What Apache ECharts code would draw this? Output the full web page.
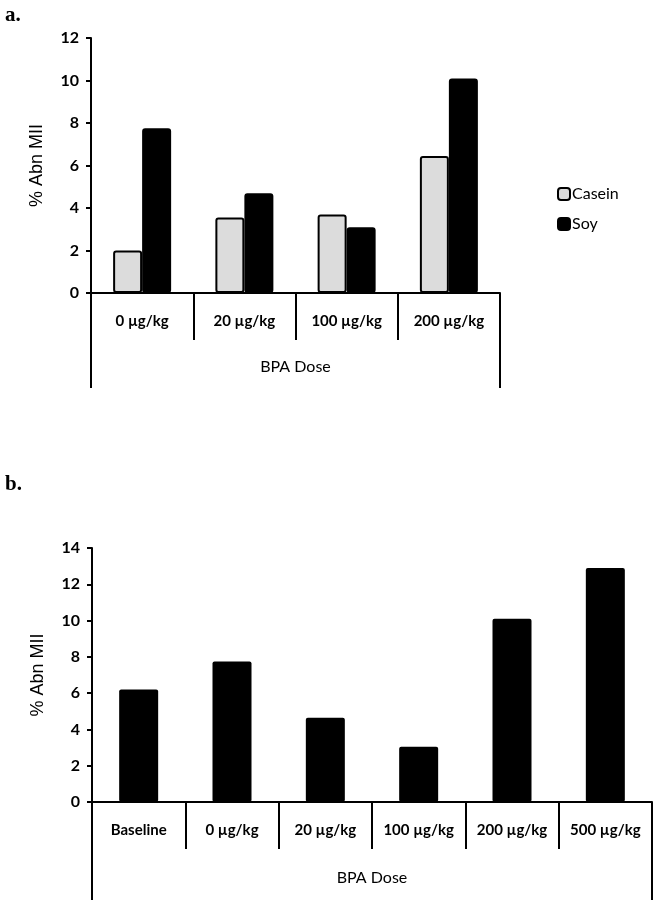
<!DOCTYPE html>
<html>
<head>
<meta charset="utf-8">
<script src="https://cdn.jsdelivr.net/npm/echarts@6/dist/echarts.min.js"></script>
<style>
html,body{margin:0;padding:0;background:#fff;}
#c{width:659px;height:900px;}
</style>
</head>
<body>
<div id="c"></div>
<script>
// ---- Data ----
var dosesA = ['0 \u00b5g/kg', '20 \u00b5g/kg', '100 \u00b5g/kg', '200 \u00b5g/kg'];
var casein = [2.0, 3.55, 3.7, 6.45];
var soy = [7.75, 4.7, 3.1, 10.1];
var dosesB = ['Baseline', '0 \u00b5g/kg', '20 \u00b5g/kg', '100 \u00b5g/kg', '200 \u00b5g/kg', '500 \u00b5g/kg'];
var abnB = [6.2, 7.75, 4.65, 3.05, 10.1, 12.9];
var groupLabel = ['BPA Dose'];
var yName = '% Abn MII';

var chart = echarts.init(document.getElementById('c'), null, {renderer: 'canvas'});
var lab = 'Lato, "Open Sans", sans-serif';

function catAxis(gi, data) {
  return {
    type: 'category', gridIndex: gi, data: data, position: 'bottom',
    axisLine: {show: true, lineStyle: {color: '#000', width: 2}},
    axisTick: {show: true, interval: 0, length: 47, lineStyle: {color: '#000', width: 2}},
    axisLabel: {interval: 0, color: '#000', fontFamily: lab, fontSize: 15, fontWeight: 'bold', margin: 21}
  };
}
function outerAxis(gi, len, margin) {
  return {
    type: 'category', gridIndex: gi, data: groupLabel, position: 'bottom', offset: 0,
    axisLine: {show: false},
    axisTick: {show: true, interval: 0, length: len, lineStyle: {color: '#000', width: 2}},
    axisLabel: {color: '#000', fontFamily: lab, fontSize: 16, margin: margin}
  };
}
function valAxis(gi, max) {
  return {
    type: 'value', gridIndex: gi, min: 0, max: max, interval: 2,
    name: yName, nameLocation: 'middle', nameGap: 45, nameRotate: 90,
    nameTextStyle: {color: '#000', fontFamily: 'Liberation Sans, Arial, sans-serif', fontSize: 18},
    splitLine: {show: false},
    axisLine: {show: true, lineStyle: {color: '#000', width: 2}},
    axisTick: {show: true, length: 5, lineStyle: {color: '#000', width: 2}},
    axisLabel: {color: '#000', fontFamily: lab, fontSize: 16, fontWeight: 'bold', margin: 12}
  };
}

chart.setOption({
  animation: false,
  backgroundColor: '#fff',
  title: [
    {text: 'a.', left: 0, top: 0, textStyle: {fontFamily: 'Liberation Serif, serif', fontWeight: 'bold', fontSize: 21, color: '#000'}},
    {text: 'b.', left: 0, top: 469, textStyle: {fontFamily: 'Liberation Serif, serif', fontWeight: 'bold', fontSize: 21, color: '#000'}}
  ],
  legend: {
    data: ['Casein', 'Soy'], orient: 'vertical', left: 552, top: 181,
    itemWidth: 12, itemHeight: 12, itemGap: 14,
    textStyle: {fontFamily: lab, fontSize: 16, color: '#000', padding: [0, 0, 0, -3]}
  },
  grid: [
    {left: 91, top: 38, width: 409, height: 255, containLabel: false},
    {left: 92, top: 548, width: 560, height: 254, containLabel: false}
  ],
  xAxis: [
    catAxis(0, dosesA), outerAxis(0, 95, 66),
    catAxis(1, dosesB), outerAxis(1, 98, 68)
  ],
  yAxis: [valAxis(0, 12), valAxis(1, 14)],
  series: [
    {name: 'Casein', type: 'bar', xAxisIndex: 0, yAxisIndex: 0, data: casein, barWidth: 29, barGap: '0%',
     itemStyle: {color: '#dcdcdc', borderColor: '#000', borderWidth: 2, borderRadius: 2}},
    {name: 'Soy', type: 'bar', xAxisIndex: 0, yAxisIndex: 0, data: soy, barWidth: 29, barGap: '0%',
     itemStyle: {color: '#000', borderColor: '#000', borderWidth: 2, borderRadius: 2}},
    {name: 'B', type: 'bar', xAxisIndex: 2, yAxisIndex: 1, data: abnB, barWidth: 39,
     itemStyle: {color: '#000', borderRadius: 2}}
  ]
});
</script>
</body>
</html>
